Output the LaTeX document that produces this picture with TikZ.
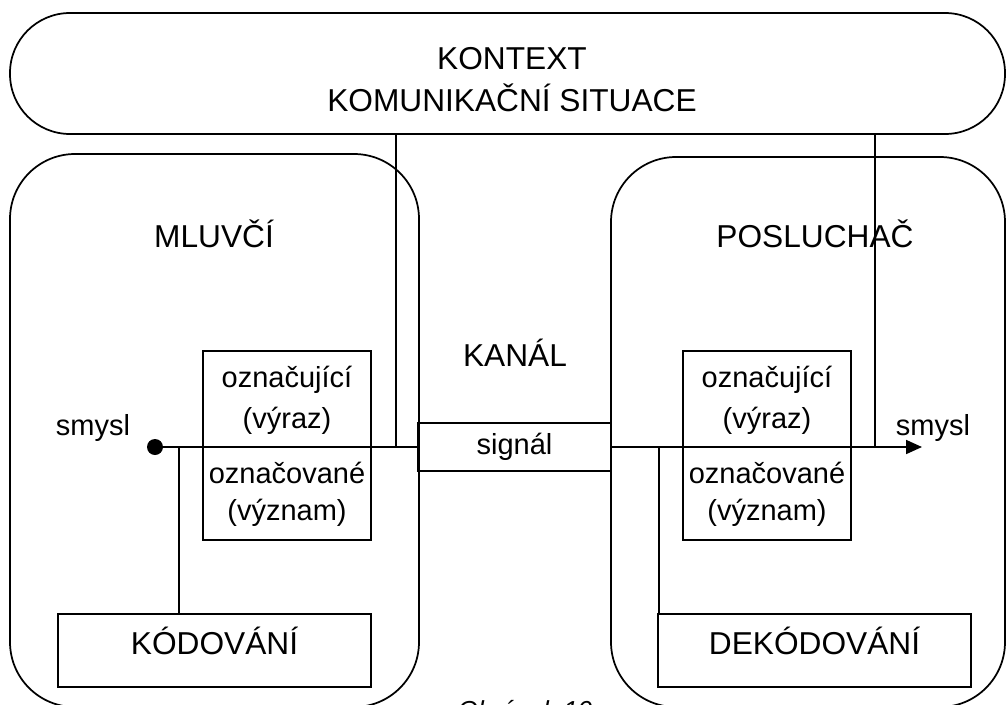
\documentclass[tikz,border=0pt]{standalone}
\usepackage{fontspec}
\setmainfont{Liberation Sans}
\usetikzlibrary{arrows.meta}
\begin{document}
\begin{tikzpicture}[x=0.75pt,y=-0.75pt,
  frame/.style={draw, line width=1.3pt, inner sep=0pt},
  conn/.style={line width=1.3pt},
  title/.style={font=\fontsize{23.75}{28}\selectfont, inner sep=0pt, anchor=base},
  inner/.style={font=\fontsize{21.75}{26}\selectfont, inner sep=0pt, anchor=base},
  caption/.style={font=\fontsize{19.5}{24}\selectfont\itshape, inner sep=0pt, anchor=base}]
\useasboundingbox (0,0) rectangle (1007,704);

% context band
\node[frame, rounded corners=45pt, minimum width=746.25pt, minimum height=90.75pt] (ctx) at (507.5,73.5) {};
% speaker and listener
\node[frame, rounded corners=48.75pt, minimum width=306.75pt, minimum height=414.75pt] (spk) at (214.5,430.5) {};
\node[frame, rounded corners=48.75pt, minimum width=295.5pt, minimum height=412.5pt] (lst) at (808,432) {};
% sign boxes
\node[frame, minimum width=126pt, minimum height=141.75pt] (signL) at (287,445.5) {};
\node[frame, minimum width=126pt, minimum height=141.75pt] (signR) at (767,445.5) {};
% channel box
\node[frame, minimum width=144.75pt, minimum height=36pt] (chan) at (514.5,447) {};
% coding boxes
\node[frame, minimum width=234.75pt, minimum height=54.75pt] (kod) at (214.5,650.5) {};
\node[frame, minimum width=234.75pt, minimum height=54.75pt] (dekod) at (814.5,650.5) {};

% start of the meaning line
\node[circle, fill, inner sep=0pt, minimum size=12pt] (dot) at (155,447) {};
\coordinate (tip) at (922,447);
\coordinate (ctxL) at (396,447);
\coordinate (ctxR) at (875,447);
\coordinate (jL) at (179,447);
\coordinate (jR) at (659,447);

% connectors
\draw[conn] (dot.center) -- (chan.west);
\draw[conn, -{Triangle[length=12pt,width=10.5pt]}] (chan.east) -- (tip);
\draw[conn] (ctx.south -| ctxL) -- (ctxL);
\draw[conn] (ctx.south -| ctxR) -- (ctxR);
\draw[conn] (jL) -- (jL |- kod.north);
\draw[conn] (jR) -- (jR |- dekod.north);

% labels
\node[title] (t1) at (512,69) {KONTEXT};
\node[title] (t2) at (512,111) {KOMUNIKAČNÍ SITUACE};
\node[title] (t3) at (214,247) {MLUVČÍ};
\node[title] (t4) at (815,247) {POSLUCHAČ};
\node[title] (t5) at (515,366) {KANÁL};
\node[inner] (t6) at (514.5,454) {signál};
\node[inner] (t7) at (93,435) {smysl};
\node[inner] (t8) at (933,435) {smysl};
\node[inner] (t9) at (287,387) {označující};
\node[inner] (t10) at (287,428) {(výraz)};
\node[inner] (t11) at (287,483) {označované};
\node[inner] (t12) at (287,520) {(význam)};
\node[inner] (t13) at (767,387) {označující};
\node[inner] (t14) at (767,428) {(výraz)};
\node[inner] (t15) at (767,483) {označované};
\node[inner] (t16) at (767,520) {(význam)};
\node[title] (t17) at (214.5,654) {KÓDOVÁNÍ};
\node[title] (t18) at (814.5,654) {DEKÓDOVÁNÍ};
\node[caption] (cap) at (525,719) {Obrázek 10};
% context line drawn over the listener title
\draw[conn] (ctx.south -| ctxR) -- (ctxR);
\end{tikzpicture}
\end{document}
